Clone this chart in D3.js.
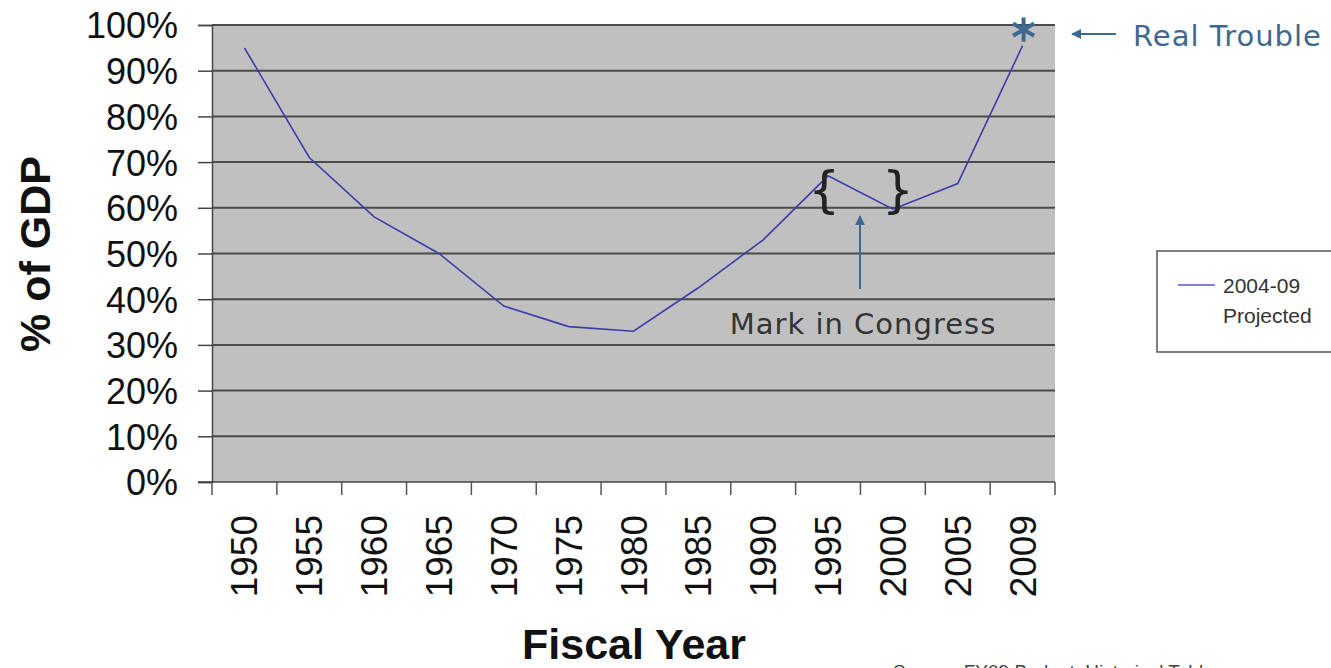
<!DOCTYPE html>
<html>
<head>
<meta charset="utf-8">
<script src="https://cdn.jsdelivr.net/npm/d3@7"></script>
<style>
  body { margin: 0; background: white; overflow: hidden; }
</style>
</head>
<body>
<script>
// values
const years = ['1950', '1955', '1960', '1965', '1970', '1975', '1980', '1985', '1990', '1995', '2000', '2005', '2009']
const debtPct = [95, 71, 58, 50, 38.5, 34, 33, 42.5, 53, 67, 59.7, 65.3, 95.5]
const yTicks = [0, 10, 20, 30, 40, 50, 60, 70, 80, 90, 100]
const legendLines = ['2004-09', 'Projected']

const chart = {}
chart.width = 1331
chart.height = 668
chart.left = 212
chart.right = 1055
chart.top = 25
chart.bottom = 482

const arial = '"Liberation Sans", Arial, sans-serif'
const wide = '"DejaVu Sans", sans-serif'

function setupChart (){

    const svg = d3.select('body')
        .append('svg')
        .attr('width', chart.width)
        .attr('height', chart.height)
        .style('font-family', arial)

    const x = d3.scaleBand()
        .domain(years)
        .range([chart.left, chart.right])

    const y = d3.scaleLinear()
        .domain([0, 100])
        .range([chart.bottom, chart.top])

    const mid = d => x(d) + x.bandwidth() / 2

    // grey plot area
    svg.append('rect')
        .attr('x', chart.left)
        .attr('y', chart.top)
        .attr('width', chart.right - chart.left)
        .attr('height', chart.bottom - chart.top)
        .attr('fill', '#c0c0c0')

    // gridlines
    svg.append('g')
        .selectAll('line')
        .data(yTicks.filter(d => d > 0))
        .join('line')
        .attr('x1', chart.left)
        .attr('x2', chart.right)
        .attr('y1', d => y(d))
        .attr('y2', d => y(d))
        .attr('stroke', '#4a4a4a')
        .attr('stroke-width', 2)

    // y axis
    const yAxis = svg.append('g')
        .attr('transform', `translate(${chart.left},0)`)
        .call(d3.axisLeft(y).tickValues(yTicks).tickFormat(d => d + '%').tickSize(14).tickPadding(20))
    yAxis.select('.domain').attr('stroke', '#444').attr('stroke-width', 1.5)
    yAxis.selectAll('.tick line').attr('stroke', '#444').attr('stroke-width', 1.5)
    yAxis.selectAll('.tick text')
        .attr('dy', '0.36em')
        .attr('fill', '#111')
        .style('font-size', '36px')
        .style('font-family', arial)

    // x axis: ticks on band edges, labels rotated
    const xAxisG = svg.append('g')
        .attr('transform', `translate(0,${chart.bottom})`)
    xAxisG.append('line')
        .attr('x1', chart.left - 14)
        .attr('x2', chart.right)
        .attr('stroke', '#444')
        .attr('stroke-width', 1.5)
    const edges = years.map(d => x(d)).concat([chart.right])
    xAxisG.selectAll('.edge')
        .data(edges)
        .join('line')
        .attr('class', 'edge')
        .attr('x1', d => d)
        .attr('x2', d => d)
        .attr('y1', 0)
        .attr('y2', 13)
        .attr('stroke', '#555')
        .attr('stroke-width', 1.5)
    xAxisG.selectAll('.lbl')
        .data(years)
        .join('text')
        .attr('class', 'lbl')
        .attr('transform', d => `translate(${mid(d) + 13},${33}) rotate(-90)`)
        .attr('text-anchor', 'end')
        .attr('fill', '#111')
        .style('font-size', '37px')
        .text(d => d)

    // series line
    const line = d3.line()
        .x((d, i) => mid(years[i]))
        .y(d => y(d))
    svg.append('path')
        .datum(debtPct)
        .attr('d', line)
        .attr('fill', 'none')
        .attr('stroke', '#3c3caa')
        .attr('stroke-width', 1.6)

    // axis titles
    svg.append('text')
        .attr('transform', `translate(50,254) rotate(-90)`)
        .attr('text-anchor', 'middle')
        .attr('font-weight', 'bold')
        .attr('fill', '#111')
        .style('font-size', '43px')
        .text('% of GDP')

    svg.append('text')
        .attr('x', 634)
        .attr('y', 659)
        .attr('text-anchor', 'middle')
        .attr('font-weight', 'bold')
        .attr('fill', '#111')
        .style('font-size', '43px')
        .text('Fiscal Year')

    // legend
    const lg = svg.append('g')
    lg.append('rect')
        .attr('x', 1157)
        .attr('y', 251)
        .attr('width', 190)
        .attr('height', 101)
        .attr('fill', 'white')
        .attr('stroke', '#555')
        .attr('stroke-width', 1.5)
    lg.append('line')
        .attr('x1', 1178)
        .attr('x2', 1215)
        .attr('y1', 285)
        .attr('y2', 285)
        .attr('stroke', '#5555cc')
        .attr('stroke-width', 1.6)
    lg.selectAll('.lg')
        .data(legendLines)
        .join('text')
        .attr('class', 'lg')
        .attr('x', 1223)
        .attr('y', (d, i) => 293 + i * 30)
        .attr('fill', '#333')
        .style('font-size', '21px')
        .text(d => d)

    // annotations
    const blue = '#3d6891'
    const ann = svg.append('g')
    ann.append('text')
        .attr('x', mid('1995') - 4)
        .attr('y', 207)
        .attr('text-anchor', 'middle')
        .attr('fill', '#222')
        .style('font-size', '50px')
        .style('font-family', wide)
        .text('{')
    ann.append('text')
        .attr('x', mid('2000') + 5)
        .attr('y', 207)
        .attr('text-anchor', 'middle')
        .attr('fill', '#222')
        .style('font-size', '50px')
        .style('font-family', wide)
        .text('}')

    // arrow heads
    const defs = svg.append('defs')
    defs.append('marker')
        .attr('id', 'head')
        .attr('viewBox', '0 0 10 10')
        .attr('refX', 9)
        .attr('refY', 5)
        .attr('markerWidth', 5)
        .attr('markerHeight', 5)
        .attr('orient', 'auto')
        .append('path')
        .attr('d', 'M0,0 L10,5 L0,10 z')
        .attr('fill', blue)

    ann.append('line')
        .attr('x1', 860)
        .attr('x2', 860)
        .attr('y1', 289)
        .attr('y2', 216)
        .attr('stroke', blue)
        .attr('stroke-width', 2)
        .attr('marker-end', 'url(#head)')
    ann.append('text')
        .attr('x', 863)
        .attr('y', 334)
        .attr('text-anchor', 'middle')
        .attr('fill', '#333')
        .style('font-size', '29px')
        .style('letter-spacing', '1px')
        .style('font-family', wide)
        .text('Mark in Congress')

    ann.append('path')
        .attr('transform', `translate(${mid('2009') + 1},${y(99)})`)
        .attr('d', d3.symbol(d3.symbolAsterisk, 420)())
        .attr('fill', 'none')
        .attr('stroke', blue)
        .attr('stroke-width', 4)
    ann.append('line')
        .attr('x1', 1116)
        .attr('x2', 1072)
        .attr('y1', 34)
        .attr('y2', 34)
        .attr('stroke', blue)
        .attr('stroke-width', 2)
        .attr('marker-end', 'url(#head)')
    ann.append('text')
        .attr('x', 1133)
        .attr('y', 46)
        .attr('fill', blue)
        .style('font-size', '29px')
        .style('letter-spacing', '1px')
        .style('font-family', wide)
        .text('Real Trouble')

    // source line, cut off by the page bottom as in the original
    svg.append('text')
        .attr('x', 893)
        .attr('y', 678)
        .attr('fill', '#444')
        .style('font-size', '19px')
        .text('Source: FY09 Budget, Historical Tables')
}

setupChart()
</script>
</body>
</html>
